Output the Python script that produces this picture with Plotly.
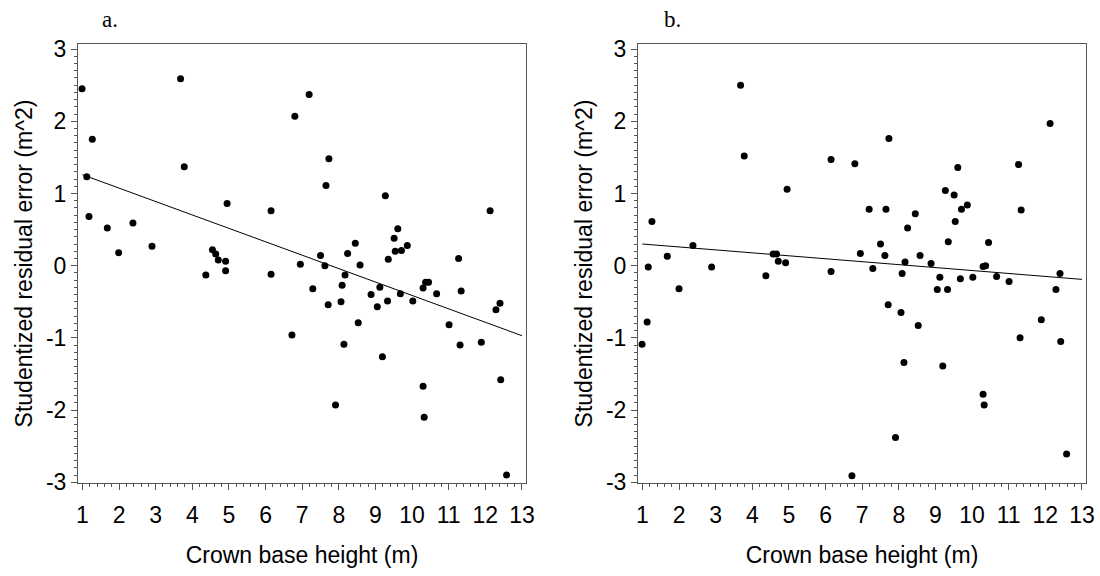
import plotly.graph_objects as go

# ---- data ----
x_a = [0.99, 1.27, 1.12, 1.18, 1.68, 1.99, 2.38, 2.90, 3.68, 3.78, 4.55, 4.64, 4.71, 4.91,
       4.91, 4.37, 4.95, 6.15, 6.15, 6.80, 6.95, 7.19, 6.72, 7.73, 7.65, 9.27, 12.13, 9.61,
       9.51, 8.45, 9.87, 9.54, 9.71, 8.24, 9.35, 11.27, 7.50, 7.62, 8.58, 8.17, 7.29, 8.09,
       7.71, 8.06, 8.88, 9.12, 9.05, 9.33, 9.68, 10.02, 10.30, 10.37, 10.45, 10.67, 11.34,
       8.53, 11.01, 8.14, 9.19, 11.31, 11.89, 12.29, 12.40, 12.42, 10.30, 10.33, 7.91, 12.58]
y_a = [2.45, 1.75, 1.23, 0.68, 0.52, 0.18, 0.59, 0.27, 2.59, 1.37, 0.22, 0.16, 0.08, 0.06,
       -0.07, -0.13, 0.86, 0.76, -0.12, 2.07, 0.02, 2.37, -0.96, 1.48, 1.11, 0.97, 0.76, 0.51,
       0.38, 0.31, 0.28, 0.20, 0.21, 0.17, 0.09, 0.10, 0.14, 0.00, 0.01, -0.13, -0.32, -0.27,
       -0.54, -0.50, -0.40, -0.30, -0.57, -0.49, -0.39, -0.49, -0.31, -0.23, -0.23, -0.39, -0.35,
       -0.79, -0.82, -1.09, -1.26, -1.10, -1.06, -0.61, -0.52, -1.58, -1.67, -2.10, -1.93, -2.90]

x_b = [1.16, 1.26, 1.68, 2.38, 2.89, 3.68, 3.78, 4.37, 4.57, 4.66, 4.71, 4.91, 4.95, 6.15,
       6.15, 6.80, 6.95, 7.19, 1.13, 0.99, 2.00, 6.72, 7.73, 7.65, 9.27, 12.13, 9.61, 9.51,
       8.45, 9.87, 9.54, 9.71, 8.24, 9.35, 11.27, 11.34, 7.50, 7.62, 8.58, 8.17, 7.29, 8.09,
       8.88, 9.12, 9.68, 10.02, 10.30, 10.37, 10.45, 10.67, 12.40, 7.71, 8.06, 8.53, 8.14,
       7.91, 9.05, 9.33, 11.01, 9.20, 10.30, 10.33, 11.31, 11.89, 12.29, 12.42, 12.58]
y_b = [-0.02, 0.61, 0.13, 0.28, -0.02, 2.50, 1.52, -0.14, 0.16, 0.16, 0.06, 0.04, 1.06, 1.47,
       -0.08, 1.41, 0.17, 0.78, -0.78, -1.09, -0.32, -2.91, 1.76, 0.78, 1.04, 1.97, 1.36, 0.98,
       0.72, 0.84, 0.61, 0.78, 0.52, 0.33, 1.40, 0.77, 0.30, 0.14, 0.14, 0.05, -0.04, -0.11,
       0.03, -0.16, -0.18, -0.16, -0.01, 0.00, 0.32, -0.15, -0.11, -0.54, -0.65, -0.83, -1.34,
       -2.38, -0.33, -0.33, -0.22, -1.39, -1.78, -1.93, -1.00, -0.75, -0.33, -1.05, -2.61]

fit_x = [1, 13]
fit_a = [1.26, -0.97]
fit_b = [0.30, -0.19]

x_ticks = list(range(1, 14))
x_labels = [str(v) for v in x_ticks]
y_ticks = [3, 2, 1, 0, -1, -2, -3]
y_labels = ["3", "2", "1", "0", "-1", "-2", "-3"]

panel_labels = ["a.", "b."]
x_title = "Crown base height (m)"
y_title = "Studentized residual error (m^2)"

W, H = 1100, 576
fig = go.Figure()

mk = dict(color="black", size=7)
fig.add_trace(go.Scatter(x=x_a, y=y_a, mode="markers", marker=mk, xaxis="x", yaxis="y", showlegend=False))
fig.add_trace(go.Scatter(x=fit_x, y=fit_a, mode="lines", line=dict(color="black", width=1), xaxis="x", yaxis="y", showlegend=False))
fig.add_trace(go.Scatter(x=x_b, y=y_b, mode="markers", marker=mk, xaxis="x2", yaxis="y2", showlegend=False))
fig.add_trace(go.Scatter(x=fit_x, y=fit_b, mode="lines", line=dict(color="black", width=1), xaxis="x2", yaxis="y2", showlegend=False))

tickfont = dict(family="Liberation Sans, Arial", size=23, color="black")
titlefont = dict(family="Liberation Sans, Arial", size=23, color="black")
axcol = "#555555"

def xaxis(dom, anchor):
    return dict(domain=dom, anchor=anchor, range=[0.88, 13.11], tickmode="array",
                tickvals=x_ticks, ticktext=x_labels, ticks="outside", ticklen=6, tickcolor=axcol,
                showline=True, linecolor=axcol, linewidth=1, mirror=True, showgrid=False,
                zeroline=False, tickfont=tickfont, ticklabelstandoff=5,
                minor=dict(dtick=0.2, ticks="outside", ticklen=3, tickcolor=axcol, showgrid=False),
                title=dict(text=x_title, font=titlefont, standoff=20))

def yaxis(anchor):
    return dict(domain=[1 - 483 / H, 1 - 44 / H], anchor=anchor, range=[-3.01, 3.07],
                tickmode="array", tickvals=y_ticks, ticktext=y_labels, ticks="outside", ticklen=6,
                tickcolor=axcol, showline=True, linecolor=axcol, linewidth=1, mirror=True,
                showgrid=False, zeroline=False, tickfont=tickfont, ticklabelstandoff=0,
                minor=dict(dtick=0.1, ticks="outside", ticklen=3, tickcolor=axcol, showgrid=False),
                title=dict(text=y_title, font=titlefont, standoff=6))

lab_font = dict(family="Liberation Serif, Times New Roman", size=23, color="black")
fig.update_layout(
    width=W, height=H, margin=dict(l=0, r=0, t=0, b=0, autoexpand=False),
    paper_bgcolor="white", plot_bgcolor="white",
    xaxis=xaxis([78 / W, 526 / W], "y"),
    yaxis=yaxis("x"),
    xaxis2=xaxis([638 / W, 1086 / W], "y2"),
    yaxis2=yaxis("x2"),
    annotations=[
        dict(text=panel_labels[0], x=110 / W, y=1 - 19 / H, xref="paper", yref="paper",
             xanchor="center", yanchor="middle", showarrow=False, font=lab_font),
        dict(text=panel_labels[1], x=672 / W, y=1 - 19 / H, xref="paper", yref="paper",
             xanchor="center", yanchor="middle", showarrow=False, font=lab_font),
    ],
)

fig.write_html("out.html")
